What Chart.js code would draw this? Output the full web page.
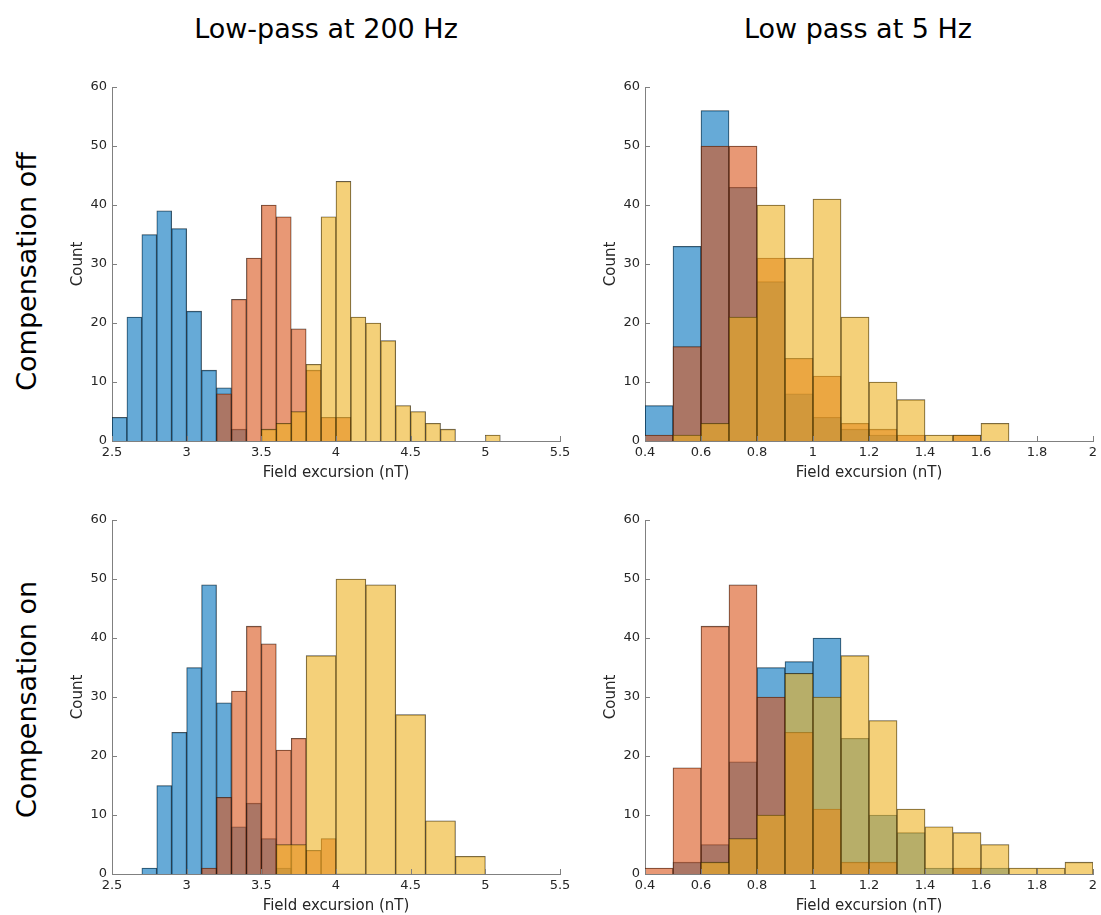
<!DOCTYPE html>
<html>
<head>
<meta charset="utf-8">
<script src="https://cdn.jsdelivr.net/npm/chart.js@4.4.1/dist/chart.umd.min.js"></script>
<style>
  body { margin: 0; background: #fff; width: 1101px; height: 915px; overflow: hidden; position: relative; font-family: 'DejaVu Sans', sans-serif; }
  canvas { position: absolute; }
  .coltitle { position: absolute; width: 400px; top: 15px; text-align: center; font-size: 27px; line-height: 27px; color: #000; white-space: nowrap; }
  .rowtitle { position: absolute; width: 300px; height: 27px; text-align: center; font-size: 27px; line-height: 27px; color: #000; white-space: nowrap; transform: rotate(-90deg); }
</style>
</head>
<body>
<div class="coltitle" style="left:126px">Low-pass at 200 Hz</div>
<div class="coltitle" style="left:658px">Low pass at 5 Hz</div>
<div class="rowtitle" style="left:-124px; top:258px">Compensation off</div>
<div class="rowtitle" style="left:-124px; top:686px">Compensation on</div>

<canvas id="offLow200" width="520" height="409"></canvas>
<canvas id="offLow5" width="510" height="409"></canvas>
<canvas id="onLow200" width="520" height="409"></canvas>
<canvas id="onLow5" width="510" height="409"></canvas>

<script>
// histogram counts (180 samples per series)
// compensation off, low-pass 200 Hz  (0.1 nT bins)
const blueOff200 = [4, 21, 35, 39, 36, 22, 12, 9, 2];                       // from 2.5
const orangeOff200 = [8, 24, 31, 40, 38, 19, 12, 4, 4];                     // from 3.2
const yellowOff200 = [2, 3, 5, 13, 38, 44, 21, 20, 17, 6, 5, 3, 2, 0, 0, 1]; // from 3.5

// compensation off, low-pass 5 Hz  (0.1 nT bins from 0.4)
const blueOff5 = [6, 33, 56, 43, 27, 8, 4, 2, 1];
const orangeOff5 = [1, 16, 50, 50, 31, 14, 11, 3, 2, 1, 0, 1];
const yellowOff5 = [0, 1, 3, 21, 40, 31, 41, 21, 10, 7, 1, 1, 3];

// compensation on, low-pass 200 Hz
const blueOn200 = [1, 15, 24, 35, 49, 29, 8, 12, 6, 1];   // 0.1 bins from 2.7
const orangeOn200 = [1, 13, 31, 42, 39, 21, 23, 4, 6];    // 0.1 bins from 3.1
const yellowOn200 = [5, 37, 50, 49, 27, 9, 3];            // 0.2 bins from 3.6

// compensation on, low-pass 5 Hz  (0.1 nT bins from 0.4)
const blueOn5 = [0, 2, 5, 19, 35, 36, 40, 23, 10, 7, 1, 1, 1];
const orangeOn5 = [1, 18, 42, 49, 30, 24, 11, 2, 2, 0, 0, 1];
const yellowOn5 = [0, 0, 2, 6, 10, 34, 30, 37, 26, 11, 8, 7, 5, 1, 1, 2];

const BLUE = 'rgba(0, 114, 189, 0.6)';
const ORANGE = 'rgba(217, 83, 25, 0.6)';
const YELLOW = 'rgba(237, 177, 32, 0.6)';
const EDGE = 'rgba(0, 0, 0, 0.7)';
const AXIS = '#808080';
const TEXT = '#262626';
const FONT = 'DejaVu Sans';

// bin centres from first edge + width
function bins(start, width, counts) {
  return counts.map((c, i) => ({ x: Math.round((start + (i + 0.5) * width) * 1000) / 1000, y: c }));
}

// MATLAB style ticks pointing into the axes
const innerTicks = {
  id: 'innerTicks',
  afterDraw(chart) {
    const { ctx, chartArea: a } = chart;
    const x = chart.scales.x, y = chart.scales.y;
    ctx.save();
    ctx.strokeStyle = AXIS;
    ctx.lineWidth = 1;
    ctx.beginPath();
    x.ticks.forEach((t, i) => {
      const px = Math.round(x.getPixelForTick(i)) + 0.5;
      ctx.moveTo(px, a.bottom);
      ctx.lineTo(px, a.bottom - 5);
    });
    y.ticks.forEach((t, i) => {
      const py = Math.round(y.getPixelForTick(i)) + 0.5;
      ctx.moveTo(a.left, py);
      ctx.lineTo(a.left + 5, py);
    });
    ctx.stroke();
    ctx.restore();
  }
};

function makePanel(id, plotLeft, plotTop, padRight, xMin, xMax, xStep, series) {
  const canvas = document.getElementById(id);
  canvas.style.left = (plotLeft - 52) + 'px';
  canvas.style.top = (plotTop - 10) + 'px';

  const datasets = series.map(s => ({
    data: s.data,
    backgroundColor: s.color,
    borderColor: EDGE,
    borderWidth: 0.6,
    grouped: false,
    barPercentage: 1,
    categoryPercentage: 1,
    order: s.order,
    xAxisID: s.axis || 'x'
  }));

  new Chart(canvas, {
    type: 'bar',
    data: { datasets: datasets },
    options: {
      responsive: false,
      animation: false,
      devicePixelRatio: 1,
      layout: { padding: { top: 10, right: padRight, bottom: 0, left: 0 } },
      plugins: { legend: { display: false }, tooltip: { enabled: false } },
      scales: {
        x: {
          type: 'linear', min: xMin, max: xMax, offset: false, z: 1,
          grid: { display: false, drawTicks: false },
          border: { display: true, color: AXIS, width: 1 },
          ticks: {
            stepSize: xStep, padding: 4, color: TEXT, maxRotation: 0, autoSkip: false,
            font: { family: FONT, size: 13 },
            callback: v => String(+v.toFixed(2))
          },
          title: { display: true, text: 'Field excursion (nT)', color: TEXT, font: { family: FONT, size: 15 }, padding: { top: 0, bottom: 4 } },
          afterFit: s => { s.height = 45; s.paddingLeft = 0; s.paddingRight = 0; }
        },
        x2: { type: 'linear', display: false, min: xMin, max: xMax, offset: false, ticks: { stepSize: xStep } },
        y: {
          min: 0, max: 60, z: 1,
          grid: { display: false, drawTicks: false },
          border: { display: true, color: AXIS, width: 1 },
          ticks: { stepSize: 10, padding: 5, color: TEXT, font: { family: FONT, size: 13 } },
          title: { display: true, text: 'Count', color: TEXT, font: { family: FONT, size: 15 }, padding: { top: 9, bottom: 0 } },
          afterFit: s => { s.width = 52; s.paddingTop = 0; s.paddingBottom = 0; }
        }
      }
    },
    plugins: [innerTicks]
  });
}

makePanel('offLow200', 112, 87, 20, 2.5, 5.5, 0.5, [
  { data: bins(2.5, 0.1, blueOff200), color: BLUE, order: 3 },
  { data: bins(3.2, 0.1, orangeOff200), color: ORANGE, order: 2 },
  { data: bins(3.5, 0.1, yellowOff200), color: YELLOW, order: 1 }
]);

makePanel('offLow5', 645, 87, 10, 0.4, 2, 0.2, [
  { data: bins(0.4, 0.1, blueOff5), color: BLUE, order: 3 },
  { data: bins(0.4, 0.1, orangeOff5), color: ORANGE, order: 2 },
  { data: bins(0.4, 0.1, yellowOff5), color: YELLOW, order: 1 }
]);

makePanel('onLow200', 112, 520, 20, 2.5, 5.5, 0.5, [
  { data: bins(2.7, 0.1, blueOn200), color: BLUE, order: 3 },
  { data: bins(3.1, 0.1, orangeOn200), color: ORANGE, order: 2 },
  { data: bins(3.6, 0.2, yellowOn200), color: YELLOW, order: 1, axis: 'x2' }
]);

makePanel('onLow5', 645, 520, 10, 0.4, 2, 0.2, [
  { data: bins(0.4, 0.1, blueOn5), color: BLUE, order: 3 },
  { data: bins(0.4, 0.1, orangeOn5), color: ORANGE, order: 2 },
  { data: bins(0.4, 0.1, yellowOn5), color: YELLOW, order: 1 }
]);
</script>
</body>
</html>
